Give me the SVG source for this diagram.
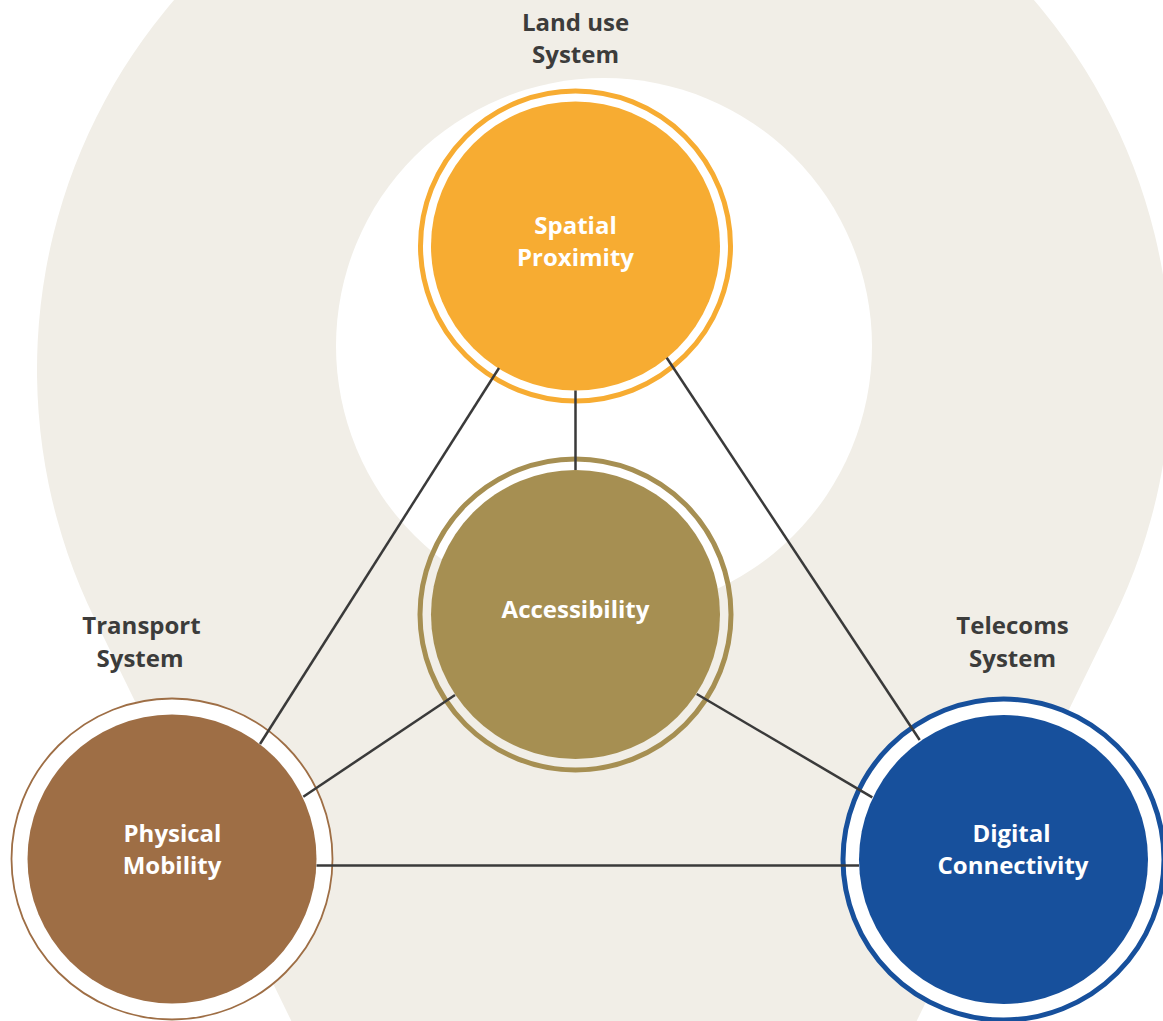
<svg xmlns="http://www.w3.org/2000/svg" width="1163" height="1021" viewBox="0 0 1163 1021">
<style>
.lbl{font-family:"Open Sans","Liberation Sans",sans-serif;font-weight:700;font-size:24px;fill:#3c3c3b;text-anchor:middle}
.in{font-family:"Open Sans","Liberation Sans",sans-serif;font-weight:700;font-size:24px;fill:#ffffff;text-anchor:middle}
.conn line{stroke:#3a3a3a;stroke-width:2.5;fill:none}
</style>
<rect width="1163" height="1021" fill="#ffffff"/>
<path d="M95,619.5 A567,567 0 1,1 1113,619.5 L878,1100 L330,1100 Z" fill="#f1eee7"/>
<circle cx="604" cy="346" r="268" fill="#ffffff"/>
<g id="spatial-proximity">
<circle cx="575.5" cy="246" r="155" fill="#ffffff" stroke="#f7ac32" stroke-width="5"/>
<circle cx="575.5" cy="246" r="144.5" fill="#f7ac32"/>
<text class="in" x="575.5" y="234.3">Spatial</text>
<text class="in" x="575.5" y="266">Proximity</text>
</g>
<g id="accessibility">
<circle cx="575.5" cy="614.5" r="155.5" fill="none" stroke="#a68f52" stroke-width="5"/>
<circle cx="575.5" cy="614.5" r="144.5" fill="#a68f52"/>
<text class="in" x="575.5" y="617.5">Accessibility</text>
</g>
<g id="physical-mobility">
<circle cx="172" cy="859" r="160.5" fill="#ffffff" stroke="#9e6e45" stroke-width="1.8"/>
<circle cx="172" cy="859" r="144.5" fill="#9e6e45"/>
<text class="in" x="172.5" y="841.7">Physical</text>
<text class="in" x="172" y="873.5">Mobility</text>
</g>
<g id="digital-connectivity">
<circle cx="1003.5" cy="859.5" r="160.5" fill="#ffffff" stroke="#17509c" stroke-width="5"/>
<circle cx="1003.5" cy="859.5" r="144.5" fill="#17509c"/>
<text class="in" x="1011.5" y="841.7">Digital</text>
<text class="in" x="1013" y="873.5">Connectivity</text>
</g>
<g id="land-use-label">
<text class="lbl" x="575.5" y="30.5">Land use</text>
<text class="lbl" x="575.5" y="63">System</text>
</g>
<g id="transport-label">
<text class="lbl" x="141.5" y="634">Transport</text>
<text class="lbl" x="140" y="666.5">System</text>
</g>
<g id="telecoms-label">
<text class="lbl" x="1012.5" y="634">Telecoms</text>
<text class="lbl" x="1012.5" y="666.5">System</text>
</g>
<g id="connectors" class="conn">
<line x1="499" y1="368" x2="260" y2="744"/>
<line x1="575.5" y1="390.5" x2="575.5" y2="470"/>
<line x1="666.7" y1="357.7" x2="919.7" y2="740"/>
<line x1="455" y1="695" x2="303.3" y2="796.7"/>
<line x1="696.7" y1="694" x2="872.3" y2="797.3"/>
<line x1="316.5" y1="865.5" x2="859" y2="865.5"/>
</g>
</svg>
